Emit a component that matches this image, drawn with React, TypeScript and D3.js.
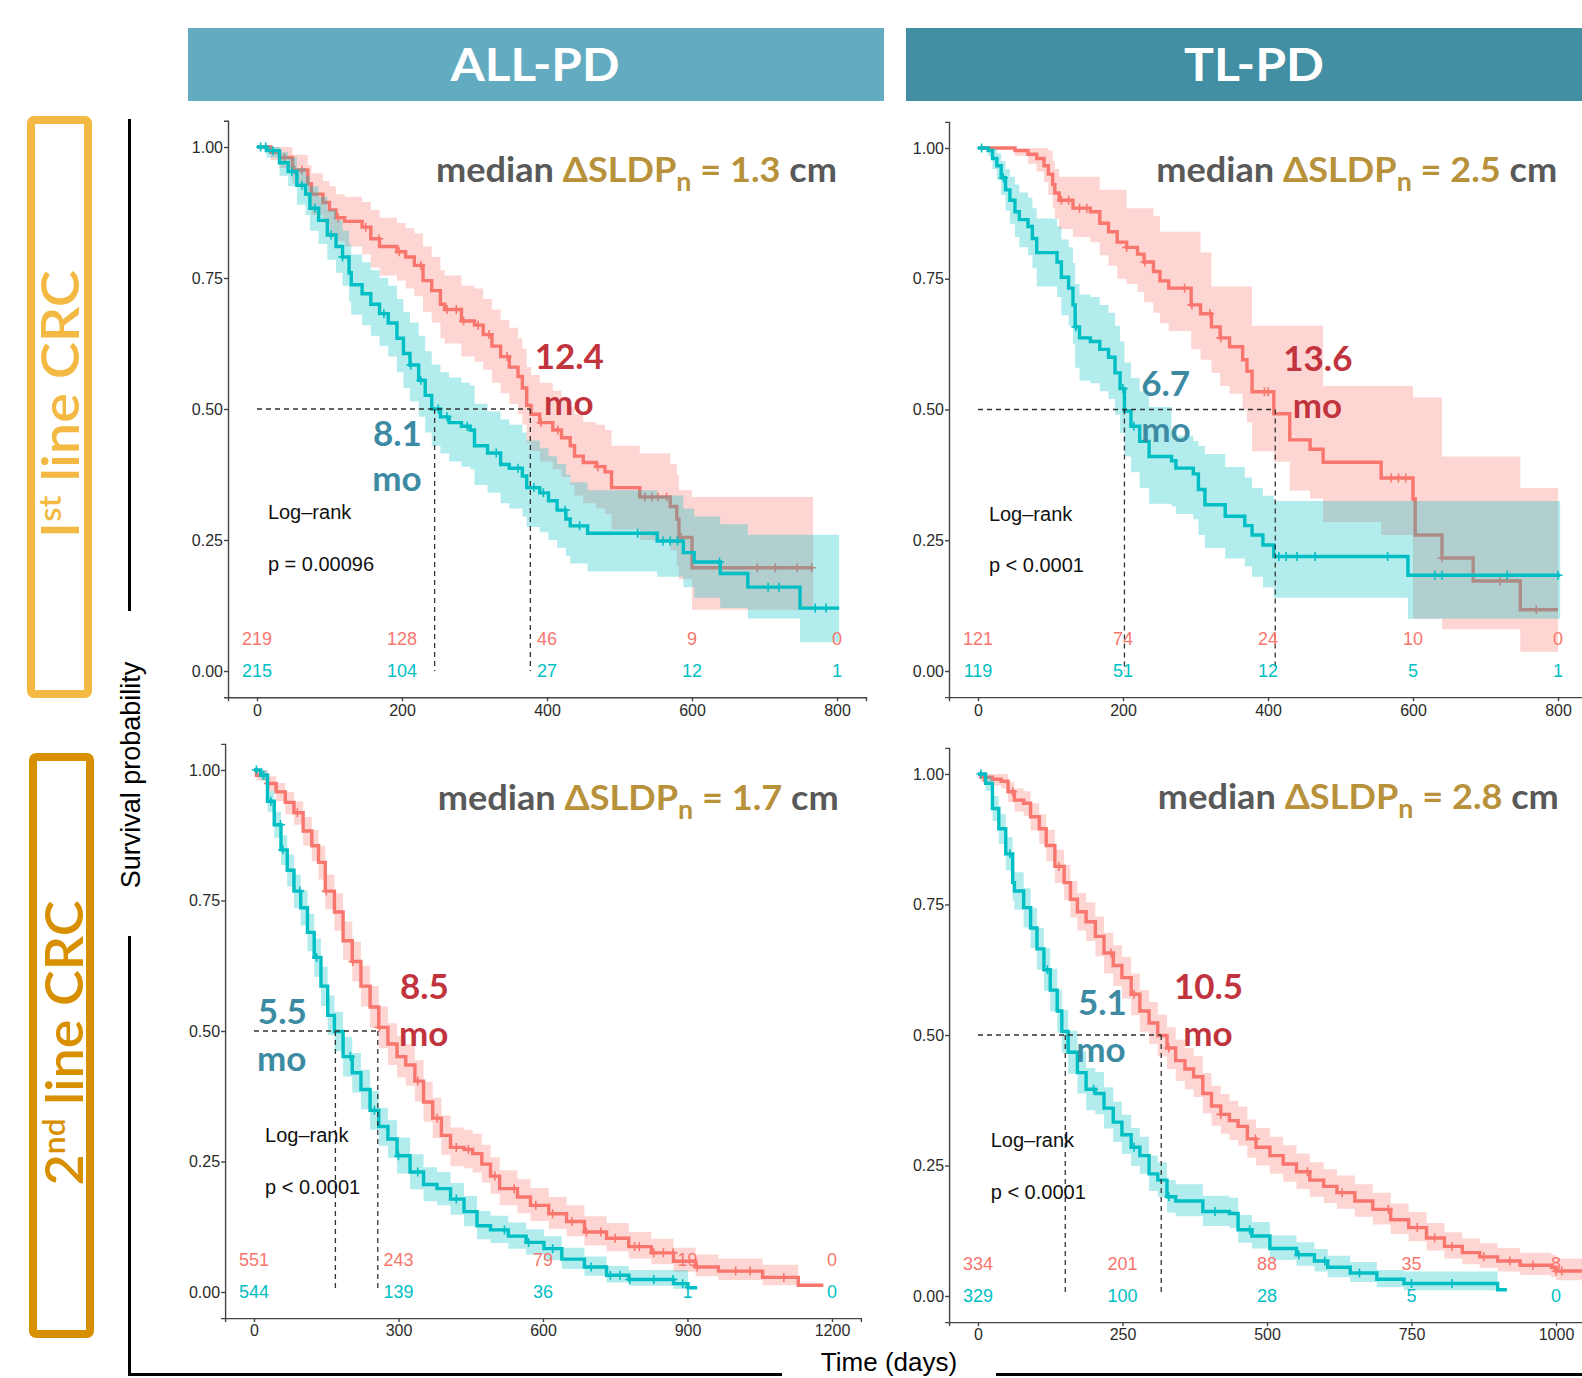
import React, { useEffect, useRef } from 'react';
import * as d3 from 'd3';

// [time (days), survival, lower CI, upper CI]
type Row = [number, number, number, number];

const FONT = "'Liberation Sans', Arial, sans-serif";
const CAL = "Lato, 'Open Sans', sans-serif";
const RED = '#F8766D';
const TEAL = '#00BFC4';

const columns = ['ALL-PD', 'TL-PD'];
const deltaValues = ['1.3', '2.5', '1.7', '2.8'];
const pValues = ['p = 0.00096', 'p < 0.0001', 'p < 0.0001', 'p < 0.0001'];
const medianRedLabels = ['12.4', '13.6', '8.5', '10.5'];
const medianTealLabels = ['8.1', '6.7', '5.5', '5.1'];
const medianRedDays = [377, 410, 257, 317];
const medianTealDays = [245, 202, 169, 151];

const ticks1st = [0, 200, 400, 600, 800];
const ticksAll2nd = [0, 300, 600, 900, 1200];
const ticksTl2nd = [0, 250, 500, 750, 1000];
const yTicks = [0, 0.25, 0.5, 0.75, 1];

const riskAll1stRed = ['219', '128', '46', '9', '0'];
const riskAll1stTeal = ['215', '104', '27', '12', '1'];
const riskTl1stRed = ['121', '74', '24', '10', '0'];
const riskTl1stTeal = ['119', '51', '12', '5', '1'];
const riskAll2ndRed = ['551', '243', '79', '19', '0'];
const riskAll2ndTeal = ['544', '139', '36', '1', '0'];
const riskTl2ndRed = ['334', '201', '88', '35', '8'];
const riskTl2ndTeal = ['329', '100', '28', '5', '0'];

const all1stRed: Row[] = [
  [0, 1, 1, 1], [19, 0.99, 0.975, 1], [31, 0.98, 0.96, 1], [49, 0.956, 0.93, 0.985],
  [70, 0.93, 0.895, 0.965], [75, 0.91, 0.87, 0.95], [91, 0.894, 0.855, 0.935],
  [100, 0.88, 0.835, 0.925], [109, 0.865, 0.82, 0.91], [121, 0.858, 0.81, 0.905],
  [145, 0.847, 0.795, 0.895], [157, 0.825, 0.77, 0.88], [169, 0.81, 0.755, 0.865],
  [193, 0.8, 0.745, 0.855], [205, 0.79, 0.73, 0.845], [217, 0.774, 0.715, 0.835],
  [229, 0.745, 0.685, 0.81], [241, 0.726, 0.665, 0.79], [253, 0.7, 0.635, 0.765],
  [259, 0.69, 0.625, 0.755], [282, 0.668, 0.6, 0.735], [300, 0.66, 0.59, 0.73],
  [312, 0.642, 0.575, 0.71], [324, 0.62, 0.55, 0.69], [336, 0.6, 0.53, 0.67],
  [348, 0.58, 0.51, 0.655], [360, 0.562, 0.49, 0.635], [366, 0.54, 0.47, 0.615],
  [372, 0.507, 0.435, 0.58], [378, 0.49, 0.42, 0.565], [390, 0.474, 0.4, 0.55],
  [408, 0.46, 0.385, 0.535], [420, 0.445, 0.37, 0.52], [432, 0.43, 0.355, 0.505],
  [438, 0.41, 0.335, 0.49], [450, 0.398, 0.32, 0.475], [468, 0.39, 0.31, 0.47],
  [480, 0.38, 0.3, 0.46], [489, 0.35, 0.27, 0.43], [528, 0.332, 0.25, 0.415],
  [570, 0.314, 0.23, 0.395], [579, 0.29, 0.2, 0.375], [582, 0.255, 0.175, 0.345],
  [600, 0.197, 0.117, 0.332], [767, 0.197, 0.117, 0.332],
];

const all1stTeal: Row[] = [
  [0, 1, 1, 1], [13, 0.993, 0.98, 1], [31, 0.97, 0.945, 0.99], [43, 0.953, 0.925, 0.98],
  [55, 0.927, 0.89, 0.96], [67, 0.91, 0.87, 0.945], [73, 0.883, 0.84, 0.925],
  [85, 0.86, 0.815, 0.905], [97, 0.832, 0.785, 0.88], [109, 0.81, 0.76, 0.86],
  [118, 0.79, 0.735, 0.84], [127, 0.76, 0.705, 0.815], [130, 0.737, 0.68, 0.795],
  [145, 0.72, 0.66, 0.78], [157, 0.7, 0.64, 0.765], [169, 0.682, 0.62, 0.75],
  [181, 0.664, 0.6, 0.735], [193, 0.635, 0.57, 0.71], [202, 0.606, 0.54, 0.685],
  [211, 0.584, 0.515, 0.665], [223, 0.555, 0.485, 0.64], [232, 0.526, 0.455, 0.61],
  [241, 0.5, 0.43, 0.585], [253, 0.485, 0.415, 0.57], [265, 0.474, 0.4, 0.56],
  [282, 0.467, 0.39, 0.55], [294, 0.46, 0.385, 0.545], [300, 0.43, 0.355, 0.51],
  [318, 0.416, 0.34, 0.495], [336, 0.394, 0.32, 0.48], [348, 0.387, 0.31, 0.47],
  [366, 0.372, 0.295, 0.455], [372, 0.35, 0.275, 0.44], [390, 0.34, 0.265, 0.425],
  [402, 0.325, 0.25, 0.41], [414, 0.307, 0.235, 0.395], [426, 0.29, 0.22, 0.375],
  [432, 0.277, 0.205, 0.36], [456, 0.263, 0.19, 0.345], [552, 0.248, 0.18, 0.335],
  [588, 0.226, 0.16, 0.31], [603, 0.208, 0.14, 0.295], [639, 0.186, 0.12, 0.28],
  [677, 0.16, 0.1, 0.26], [749, 0.12, 0.055, 0.26], [803, 0.12, 0.055, 0.26],
];

const tl1stRed: Row[] = [
  [0, 1, 1, 1], [51, 0.995, 0.985, 1], [69, 0.988, 0.97, 1], [81, 0.98, 0.955, 1],
  [91, 0.966, 0.935, 1], [97, 0.95, 0.91, 0.995], [103, 0.93, 0.885, 0.975],
  [106, 0.914, 0.865, 0.96], [112, 0.9, 0.845, 0.945], [131, 0.885, 0.83, 0.945],
  [155, 0.878, 0.82, 0.945], [168, 0.856, 0.795, 0.92], [180, 0.84, 0.775, 0.92],
  [192, 0.82, 0.75, 0.92], [205, 0.81, 0.74, 0.885], [220, 0.797, 0.725, 0.885],
  [229, 0.782, 0.705, 0.885], [242, 0.764, 0.685, 0.87], [251, 0.746, 0.665, 0.84],
  [263, 0.732, 0.65, 0.84], [294, 0.7, 0.615, 0.84], [307, 0.683, 0.595, 0.8],
  [322, 0.658, 0.57, 0.735], [334, 0.637, 0.545, 0.735], [347, 0.62, 0.53, 0.735],
  [365, 0.595, 0.5, 0.735], [371, 0.573, 0.475, 0.735], [378, 0.534, 0.42, 0.66],
  [408, 0.492, 0.4, 0.66], [430, 0.442, 0.345, 0.66], [458, 0.424, 0.33, 0.66],
  [476, 0.399, 0.285, 0.545], [556, 0.369, 0.26, 0.545], [600, 0.329, 0.1, 0.523],
  [603, 0.26, 0.1, 0.523], [640, 0.216, 0.08, 0.41], [683, 0.172, 0.08, 0.41],
  [748, 0.117, 0.037, 0.35], [800, 0.117, 0.037, 0.35],
];

const tl1stTeal: Row[] = [
  [0, 1, 1, 1], [14, 0.995, 0.985, 1], [20, 0.98, 0.96, 1], [26, 0.966, 0.94, 0.99],
  [32, 0.943, 0.91, 0.975], [38, 0.92, 0.88, 0.96], [44, 0.9, 0.855, 0.945],
  [51, 0.878, 0.83, 0.93], [57, 0.863, 0.81, 0.915], [69, 0.85, 0.795, 0.905],
  [75, 0.827, 0.77, 0.885], [81, 0.8, 0.735, 0.865], [109, 0.782, 0.715, 0.85],
  [115, 0.753, 0.68, 0.825], [125, 0.732, 0.66, 0.81], [131, 0.7, 0.625, 0.78],
  [134, 0.658, 0.58, 0.74], [140, 0.637, 0.555, 0.72], [155, 0.63, 0.55, 0.715],
  [168, 0.615, 0.535, 0.7], [180, 0.6, 0.52, 0.685], [189, 0.57, 0.49, 0.66],
  [196, 0.54, 0.455, 0.63], [202, 0.497, 0.41, 0.59], [211, 0.468, 0.38, 0.56],
  [223, 0.439, 0.35, 0.535], [236, 0.41, 0.32, 0.505], [267, 0.402, 0.315, 0.46],
  [273, 0.388, 0.3, 0.45], [297, 0.377, 0.29, 0.44], [304, 0.347, 0.26, 0.43],
  [313, 0.318, 0.235, 0.415], [341, 0.296, 0.215, 0.39], [368, 0.278, 0.2, 0.37],
  [378, 0.26, 0.18, 0.35], [393, 0.241, 0.16, 0.335], [408, 0.219, 0.14, 0.325],
  [593, 0.183, 0.1, 0.325], [803, 0.183, 0.1, 0.325],
];

const all2ndRed: Row[] = [
  [0, 1, 1, 1], [5, 0.99, 0.98, 1], [28, 0.974, 0.96, 0.988], [46, 0.958, 0.94, 0.975],
  [65, 0.938, 0.915, 0.958], [83, 0.918, 0.895, 0.94], [102, 0.883, 0.855, 0.91],
  [120, 0.855, 0.825, 0.885], [134, 0.823, 0.79, 0.855], [148, 0.768, 0.733, 0.8],
  [167, 0.728, 0.692, 0.764], [185, 0.673, 0.636, 0.71], [204, 0.633, 0.595, 0.671],
  [222, 0.586, 0.547, 0.625], [241, 0.546, 0.506, 0.586], [259, 0.507, 0.467, 0.547],
  [278, 0.475, 0.435, 0.515], [297, 0.451, 0.411, 0.491], [315, 0.435, 0.395, 0.475],
  [334, 0.404, 0.365, 0.444], [352, 0.364, 0.326, 0.403], [371, 0.333, 0.295, 0.372],
  [389, 0.3, 0.263, 0.338], [408, 0.277, 0.241, 0.315], [436, 0.273, 0.237, 0.311],
  [454, 0.265, 0.229, 0.303], [473, 0.245, 0.21, 0.282], [491, 0.222, 0.188, 0.258],
  [510, 0.198, 0.166, 0.233], [547, 0.182, 0.151, 0.216], [574, 0.166, 0.136, 0.199],
  [612, 0.15, 0.121, 0.182], [649, 0.135, 0.107, 0.166], [686, 0.115, 0.089, 0.145],
  [732, 0.103, 0.078, 0.132], [778, 0.087, 0.064, 0.115], [825, 0.075, 0.053, 0.102],
  [871, 0.059, 0.039, 0.085], [917, 0.048, 0.03, 0.072], [964, 0.04, 0.023, 0.064],
  [1056, 0.028, 0.013, 0.052], [1130, 0.013, 0.013, 0.013], [1182, 0.013, 0.013, 0.013],
];

const all2ndTeal: Row[] = [
  [0, 1, 1, 1], [14, 0.99, 0.98, 1], [28, 0.94, 0.92, 0.96], [42, 0.895, 0.87, 0.92],
  [56, 0.847, 0.818, 0.875], [69, 0.808, 0.777, 0.838], [83, 0.768, 0.735, 0.8],
  [97, 0.736, 0.702, 0.769], [111, 0.689, 0.653, 0.724], [125, 0.641, 0.604, 0.677],
  [139, 0.586, 0.548, 0.623], [153, 0.53, 0.492, 0.568], [167, 0.499, 0.461, 0.537],
  [185, 0.451, 0.413, 0.489], [204, 0.42, 0.382, 0.458], [222, 0.388, 0.35, 0.426],
  [241, 0.348, 0.311, 0.385], [259, 0.317, 0.28, 0.353], [278, 0.293, 0.257, 0.329],
  [297, 0.261, 0.227, 0.296], [324, 0.23, 0.197, 0.264], [352, 0.206, 0.174, 0.239],
  [380, 0.198, 0.166, 0.23], [408, 0.178, 0.148, 0.209], [436, 0.154, 0.126, 0.184],
  [463, 0.127, 0.101, 0.155], [491, 0.119, 0.094, 0.146], [528, 0.107, 0.083, 0.133],
  [565, 0.095, 0.072, 0.12], [602, 0.083, 0.061, 0.107], [639, 0.063, 0.044, 0.085],
  [686, 0.048, 0.031, 0.068], [732, 0.032, 0.018, 0.05], [778, 0.024, 0.012, 0.042],
  [871, 0.016, 0.006, 0.042], [901, 0.008, 0.008, 0.008], [920, 0.008, 0.008, 0.008],
];

const tl2ndRed: Row[] = [
  [0, 1, 1, 1], [5, 0.994, 0.985, 1], [25, 0.99, 0.978, 1], [40, 0.986, 0.972, 1],
  [52, 0.966, 0.946, 0.985], [63, 0.95, 0.928, 0.972], [79, 0.944, 0.92, 0.967],
  [91, 0.918, 0.892, 0.944], [106, 0.895, 0.866, 0.923], [118, 0.863, 0.833, 0.893],
  [133, 0.823, 0.791, 0.855], [149, 0.792, 0.758, 0.826], [160, 0.76, 0.725, 0.795],
  [172, 0.736, 0.7, 0.772], [187, 0.717, 0.68, 0.754], [203, 0.689, 0.651, 0.727],
  [218, 0.657, 0.618, 0.696], [234, 0.633, 0.594, 0.672], [249, 0.61, 0.57, 0.65],
  [265, 0.578, 0.538, 0.618], [280, 0.546, 0.506, 0.586], [296, 0.523, 0.483, 0.563],
  [311, 0.499, 0.459, 0.539], [327, 0.475, 0.435, 0.515], [342, 0.451, 0.412, 0.491],
  [358, 0.435, 0.396, 0.475], [373, 0.42, 0.381, 0.46], [389, 0.388, 0.35, 0.427],
  [404, 0.364, 0.326, 0.403], [420, 0.348, 0.311, 0.387], [435, 0.336, 0.299, 0.374],
  [450, 0.325, 0.288, 0.363], [466, 0.301, 0.265, 0.338], [481, 0.285, 0.25, 0.322],
  [505, 0.269, 0.234, 0.305], [528, 0.253, 0.219, 0.289], [551, 0.238, 0.205, 0.273],
  [574, 0.222, 0.19, 0.256], [598, 0.21, 0.178, 0.243], [621, 0.198, 0.167, 0.231],
  [652, 0.182, 0.152, 0.214], [683, 0.166, 0.137, 0.198], [714, 0.146, 0.119, 0.177],
  [745, 0.131, 0.105, 0.161], [776, 0.111, 0.087, 0.14], [807, 0.095, 0.072, 0.122],
  [838, 0.083, 0.061, 0.11], [868, 0.075, 0.054, 0.101], [899, 0.067, 0.047, 0.092],
  [938, 0.059, 0.04, 0.083], [992, 0.055, 0.036, 0.079], [1000, 0.048, 0.03, 0.072],
  [1100, 0.048, 0.03, 0.072],
];

const tl2ndTeal: Row[] = [
  [0, 1, 1, 1], [13, 0.982, 0.968, 0.995], [25, 0.934, 0.91, 0.958], [36, 0.895, 0.866, 0.923],
  [48, 0.847, 0.815, 0.879], [60, 0.792, 0.757, 0.827], [63, 0.776, 0.74, 0.812],
  [79, 0.744, 0.706, 0.781], [91, 0.705, 0.666, 0.744], [102, 0.665, 0.625, 0.705],
  [114, 0.625, 0.585, 0.666], [125, 0.586, 0.545, 0.627], [137, 0.546, 0.505, 0.587],
  [145, 0.507, 0.466, 0.548], [156, 0.467, 0.426, 0.508], [172, 0.428, 0.388, 0.469],
  [187, 0.396, 0.356, 0.437], [203, 0.388, 0.348, 0.429], [218, 0.36, 0.321, 0.4],
  [234, 0.333, 0.295, 0.372], [249, 0.309, 0.272, 0.347], [265, 0.285, 0.249, 0.322],
  [280, 0.269, 0.234, 0.305], [296, 0.234, 0.201, 0.269], [311, 0.222, 0.19, 0.256],
  [327, 0.19, 0.16, 0.222], [342, 0.182, 0.153, 0.214], [389, 0.162, 0.134, 0.192],
  [435, 0.158, 0.13, 0.188], [450, 0.127, 0.102, 0.155], [474, 0.115, 0.091, 0.142],
  [505, 0.091, 0.069, 0.116], [551, 0.079, 0.058, 0.103], [582, 0.067, 0.047, 0.09],
  [605, 0.055, 0.036, 0.077], [644, 0.044, 0.027, 0.065], [690, 0.032, 0.017, 0.05],
  [737, 0.024, 0.011, 0.047], [899, 0.012, 0.012, 0.012], [915, 0.012, 0.012, 0.012],
];

// censoring times
const cAll1stRed = [38, 52, 62, 112, 150, 168, 196, 226, 262, 275, 285, 305, 320, 345, 392, 415, 470, 535, 545, 553, 565, 585, 690, 715, 745, 765];
const cAll1stTeal = [5, 12, 22, 48, 62, 80, 102, 118, 175, 212, 226, 250, 262, 290, 330, 360, 382, 395, 425, 445, 525, 560, 570, 580, 638, 705, 720, 770, 785];
const cTl1stRed = [115, 125, 140, 150, 205, 230, 285, 295, 320, 335, 395, 400, 570, 580, 590, 640, 720, 770];
const cTl1stTeal = [5, 35, 135, 200, 215, 415, 425, 440, 465, 565, 630, 640, 730, 800];
const cAll2ndRed = [30, 90, 150, 205, 260, 340, 380, 420, 445, 500, 540, 585, 620, 660, 690, 720, 750, 790, 800, 830, 850, 870, 920, 1000, 1030, 1100];
const cAll2ndTeal = [5, 20, 35, 55, 60, 95, 130, 200, 250, 300, 340, 420, 520, 570, 620, 700, 740, 760, 780, 830, 870, 890];
const cTl2ndRed = [10, 60, 140, 230, 270, 330, 420, 480, 570, 630, 710, 760, 790, 820, 875, 920, 960, 1000, 1010];
const cTl2ndTeal = [5, 55, 120, 200, 270, 330, 410, 470, 555, 600, 660, 750, 820];

// layout: pixel position of t=0 / t=xMax and s=0 / s=1, plus text anchors in data units
const panels = [
  {
    red: all1stRed, teal: all1stTeal, cRed: cAll1stRed, cTeal: cAll1stTeal,
    ticks: ticks1st, riskRed: riskAll1stRed, riskTeal: riskAll1stTeal,
    px: [257, 837], py: [671, 147],
    redNum: [383, 0.576], redMo: [396, 0.489], tealNum: [160, 0.429], tealMo: [159, 0.344],
    head: [800, 0.933], lr: [15, 0.29], pp: [15, 0.191],
  },
  {
    red: tl1stRed, teal: tl1stTeal, cRed: cTl1stRed, cTeal: cTl1stTeal,
    ticks: ticks1st, riskRed: riskTl1stRed, riskTeal: riskTl1stTeal,
    px: [978, 1558], py: [671, 148],
    redNum: [421, 0.574], redMo: [434, 0.484], tealNum: [225, 0.526], tealMo: [225, 0.438],
    head: [799, 0.935], lr: [15, 0.287], pp: [15, 0.189],
  },
  {
    red: all2ndRed, teal: all2ndTeal, cRed: cAll2ndRed, cTeal: cAll2ndTeal,
    ticks: ticksAll2nd, riskRed: riskAll2ndRed, riskTeal: riskAll2ndTeal,
    px: [254, 832], py: [1292, 770],
    redNum: [303, 0.561], redMo: [301, 0.471], tealNum: [8, 0.513], tealMo: [6, 0.423],
    head: [1214, 0.923], lr: [23, 0.287], pp: [23, 0.188],
  },
  {
    red: tl2ndRed, teal: tl2ndTeal, cRed: cTl2ndRed, cTeal: cTl2ndTeal,
    ticks: ticksTl2nd, riskRed: riskTl2ndRed, riskTeal: riskTl2ndTeal,
    px: [978, 1556], py: [1296, 774],
    redNum: [339, 0.569], redMo: [355, 0.479], tealNum: [173, 0.538], tealMo: [170, 0.448],
    head: [1005, 0.933], lr: [22, 0.285], pp: [22, 0.186],
  },
];

const Axis = ({ scale, orient, ticks, fmt, transform }: any) => {
  const ref = useRef<SVGGElement>(null);
  useEffect(() => {
    const g = d3.select(ref.current);
    const ax = orient === 'left' ? d3.axisLeft(scale) : d3.axisBottom(scale);
    ax.tickValues(ticks).tickSizeOuter(0).tickSize(4).tickPadding(orient === 'left' ? 1 : 3).tickFormat(fmt);
    g.call(ax as any);
    g.attr('font-size', 16).attr('font-family', FONT);
    g.selectAll('text').attr('fill', '#2b2b2b');
    g.select('.domain').attr('stroke', '#444').attr('stroke-width', 1.4);
    g.selectAll('.tick line').attr('stroke', '#444').attr('stroke-width', 1.4);
  }, [scale, orient, ticks, fmt]);
  return <g ref={ref} transform={transform} />;
};

const survAt = (rows: Row[], t: number) => {
  const i = d3.bisector((d: Row) => d[0]).right(rows, t) - 1;
  return rows[Math.max(0, i)][1];
};

const Panel = ({ p, idx }: any) => {
  const xMax = p.ticks[p.ticks.length - 1];
  const x = d3.scaleLinear().domain([0, xMax]).range(p.px);
  const y = d3.scaleLinear().domain([0, 1]).range(p.py);
  const xAx = x.copy().domain([-0.05 * xMax, 1.05 * xMax]).range([x(-0.05 * xMax), x(1.05 * xMax)]);
  const yAx = y.copy().domain([-0.05, 1.05]).range([y(-0.05), y(1.05)]);

  const area = d3.area<Row>().x(d => x(d[0])).y0(d => y(d[2])).y1(d => y(d[3])).curve(d3.curveStepAfter);
  const line = d3.line<Row>().x(d => x(d[0])).y(d => y(d[1])).curve(d3.curveStepAfter);

  const mR = medianRedDays[idx];
  const mT = medianTealDays[idx];
  const medMax = Math.max(mR, mT);

  const cross = (rows: Row[], cs: number[], color: string) =>
    cs.map((c, i) => {
      const cx = x(c);
      const cy = y(survAt(rows, c));
      return (
        <path key={i} d={`M${cx - 4.5},${cy}H${cx + 4.5}M${cx},${cy - 4.5}V${cy + 4.5}`} stroke={color} strokeWidth={1.6} />
      );
    });

  const lbl = (pos: number[], text: string, color: string) => (
    <text x={x(pos[0])} y={y(pos[1])} fill={color} fontFamily={CAL} fontWeight="bold" fontSize={35}>
      {text}
    </text>
  );

  return (
    <g>
      <path d={area(p.red) || ''} fill={RED} fillOpacity={0.3} />
      <path d={line(p.red) || ''} fill="none" stroke={RED} strokeWidth={3.4} />
      {cross(p.red, p.cRed, RED)}
      <path d={area(p.teal) || ''} fill={TEAL} fillOpacity={0.3} />
      <path d={line(p.teal) || ''} fill="none" stroke={TEAL} strokeWidth={3.4} />
      {cross(p.teal, p.cTeal, TEAL)}

      <g stroke="#333" strokeWidth={1.3} strokeDasharray="5,4" fill="none">
        <path d={`M${x(0)},${y(0.5)}H${x(medMax)}`} />
        <path d={`M${x(mT)},${y(0.5)}V${y(0)}`} />
        <path d={`M${x(mR)},${y(0.5)}V${y(0)}`} />
      </g>

      <Axis scale={yAx} orient="left" ticks={yTicks} fmt={d3.format('.2f')} transform={`translate(${xAx.range()[0]},0)`} />
      <Axis scale={xAx} orient="bottom" ticks={p.ticks} fmt={d3.format('d')} transform={`translate(0,${yAx.range()[0]})`} />

      {p.ticks.map((t: number, i: number) => (
        <g key={i} fontFamily={FONT} fontSize={18} textAnchor="middle">
          <text x={x(t)} y={y(0) - 32.5} dy="0.35em" fill={RED}>{p.riskRed[i]}</text>
          <text x={x(t)} y={y(0)} dy="0.35em" fill={TEAL}>{p.riskTeal[i]}</text>
        </g>
      ))}

      <text x={x(p.lr[0])} y={y(p.lr[1])} fontFamily={FONT} fontSize={20} fill="#111">Log–rank</text>
      <text x={x(p.pp[0])} y={y(p.pp[1])} fontFamily={FONT} fontSize={20} fill="#111">{pValues[idx]}</text>

      {lbl(p.redNum, medianRedLabels[idx], '#c1343e')}
      {lbl(p.redMo, 'mo', '#c1343e')}
      {lbl(p.tealNum, medianTealLabels[idx], '#3d8ba3')}
      {lbl(p.tealMo, 'mo', '#3d8ba3')}

      <text x={x(p.head[0])} y={y(p.head[1])} textAnchor="end" fontFamily={CAL} fontWeight="bold" fontSize={35}
        textLength={401} lengthAdjust="spacingAndGlyphs">
        <tspan fill="#595959">median </tspan>
        <tspan fill="#b8923a">ΔSLDP</tspan>
        <tspan fill="#b8923a" fontSize={26} dy={9}>n</tspan>
        <tspan fill="#b8923a" dy={-9}> = {deltaValues[idx]}</tspan>
        <tspan fill="#595959"> cm</tspan>
      </text>
    </g>
  );
};

const App = () => {
  return (
    <svg width={1582} height={1378} style={{ position: 'absolute', left: 0, top: 0, display: 'block', background: '#fff' }}>
      <rect x={188} y={28} width={696} height={73} fill="#62abc0" />
      <rect x={906} y={28} width={676} height={73} fill="#428ea2" />
      <text x={535} y={81} textAnchor="middle" fill="#fff" fontFamily={CAL} fontWeight="bold" fontSize={45}
        textLength={169} lengthAdjust="spacingAndGlyphs">{columns[0]}</text>
      <text x={1254} y={81} textAnchor="middle" fill="#fff" fontFamily={CAL} fontWeight="bold" fontSize={45}
        textLength={140} lengthAdjust="spacingAndGlyphs">{columns[1]}</text>

      <rect x={31} y={120} width={57} height={574} rx={3} fill="none" stroke="#f4b942" strokeWidth={8} />
      <rect x={33} y={757} width={57} height={577} rx={3} fill="none" stroke="#d99000" strokeWidth={8} />
      <text transform="translate(79,404) rotate(-90)" textAnchor="middle" fill="#f4b942" fontFamily={CAL}
        fontWeight={600} fontSize={51} textLength={268} lengthAdjust="spacingAndGlyphs">
        I<tspan fontSize={30} dy={-18}>st</tspan><tspan dy={18}> line CRC</tspan>
      </text>
      <text transform="translate(83,1043) rotate(-90)" textAnchor="middle" fill="#d99000" fontFamily={CAL}
        fontWeight={600} fontSize={51} textLength={285} lengthAdjust="spacingAndGlyphs">
        2<tspan fontSize={30} dy={-18}>nd</tspan><tspan dy={18}> line CRC</tspan>
      </text>

      <g stroke="#000" strokeWidth={3}>
        <line x1={129.5} y1={119} x2={129.5} y2={611} />
        <line x1={129.5} y1={936} x2={129.5} y2={1375} />
        <line x1={128} y1={1374.5} x2={782} y2={1374.5} />
        <line x1={996} y1={1374.5} x2={1582} y2={1374.5} />
      </g>
      <text transform="translate(140,775) rotate(-90)" textAnchor="middle" fontFamily={FONT} fontSize={27} fill="#000">
        Survival probability
      </text>
      <text x={889} y={1371} textAnchor="middle" fontFamily={FONT} fontSize={26} fill="#000">Time (days)</text>

      {panels.map((p, i) => (
        <Panel key={i} p={p} idx={i} />
      ))}
    </svg>
  );
};

export default App;
